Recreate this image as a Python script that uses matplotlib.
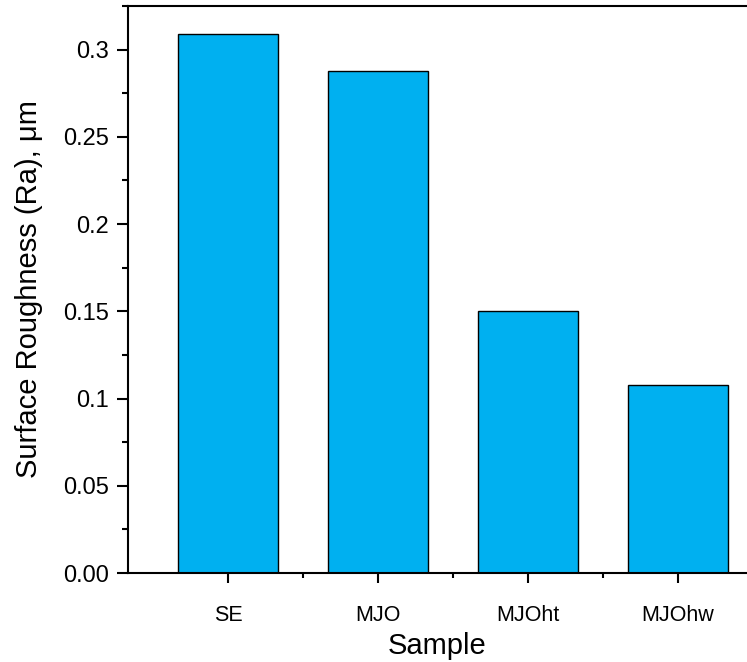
import numpy as np
import matplotlib.pyplot as plt
from matplotlib.ticker import AutoMinorLocator, FixedLocator

plt.rcParams["font.family"] = ["Liberation Sans", "DejaVu Sans"]

samples = ["SE", "MJO", "MJOht", "MJOhw"]
roughness = [0.309, 0.288, 0.150, 0.108]
ytick_vals = [0.0, 0.05, 0.1, 0.15, 0.2, 0.25, 0.3]
ytick_labels = ["0.00", "0.05", "0.1", "0.15", "0.2", "0.25", "0.3"]

fig = plt.figure(figsize=(7.47, 6.62), dpi=100)
ax = fig.add_axes([0.1714, 0.1344, 0.8286, 0.8566])

x = np.arange(len(samples))
ax.bar(x, roughness, width=0.667, color="#00B0F0", edgecolor="black", linewidth=1.0)

ax.set_xlim(-0.667, 3.46)
ax.set_ylim(0, 0.325)

ax.set_xticks(x)
ax.set_xticklabels(samples, fontsize=15.5)
ax.xaxis.set_minor_locator(FixedLocator(x[:-1] + 0.5))
ax.set_yticks(ytick_vals)
ax.set_yticklabels(ytick_labels, fontsize=17)
ax.yaxis.set_minor_locator(AutoMinorLocator(2))

ax.tick_params(axis="x", which="major", direction="out", length=7, width=1.5, pad=16)
ax.tick_params(axis="x", which="minor", direction="out", length=3.5, width=1.5)
ax.tick_params(axis="y", which="major", direction="out", length=8, width=1.5, pad=6)
ax.tick_params(axis="y", which="minor", direction="out", length=4, width=1.5)

for side in ["left", "bottom", "top"]:
    ax.spines[side].set_linewidth(1.5)
ax.spines["right"].set_visible(False)

ax.set_xlabel("Sample", fontsize=21, labelpad=4)
ax.set_ylabel("Surface Roughness (Ra), μm", fontsize=21, labelpad=14)

plt.savefig("out.png", dpi=100)
